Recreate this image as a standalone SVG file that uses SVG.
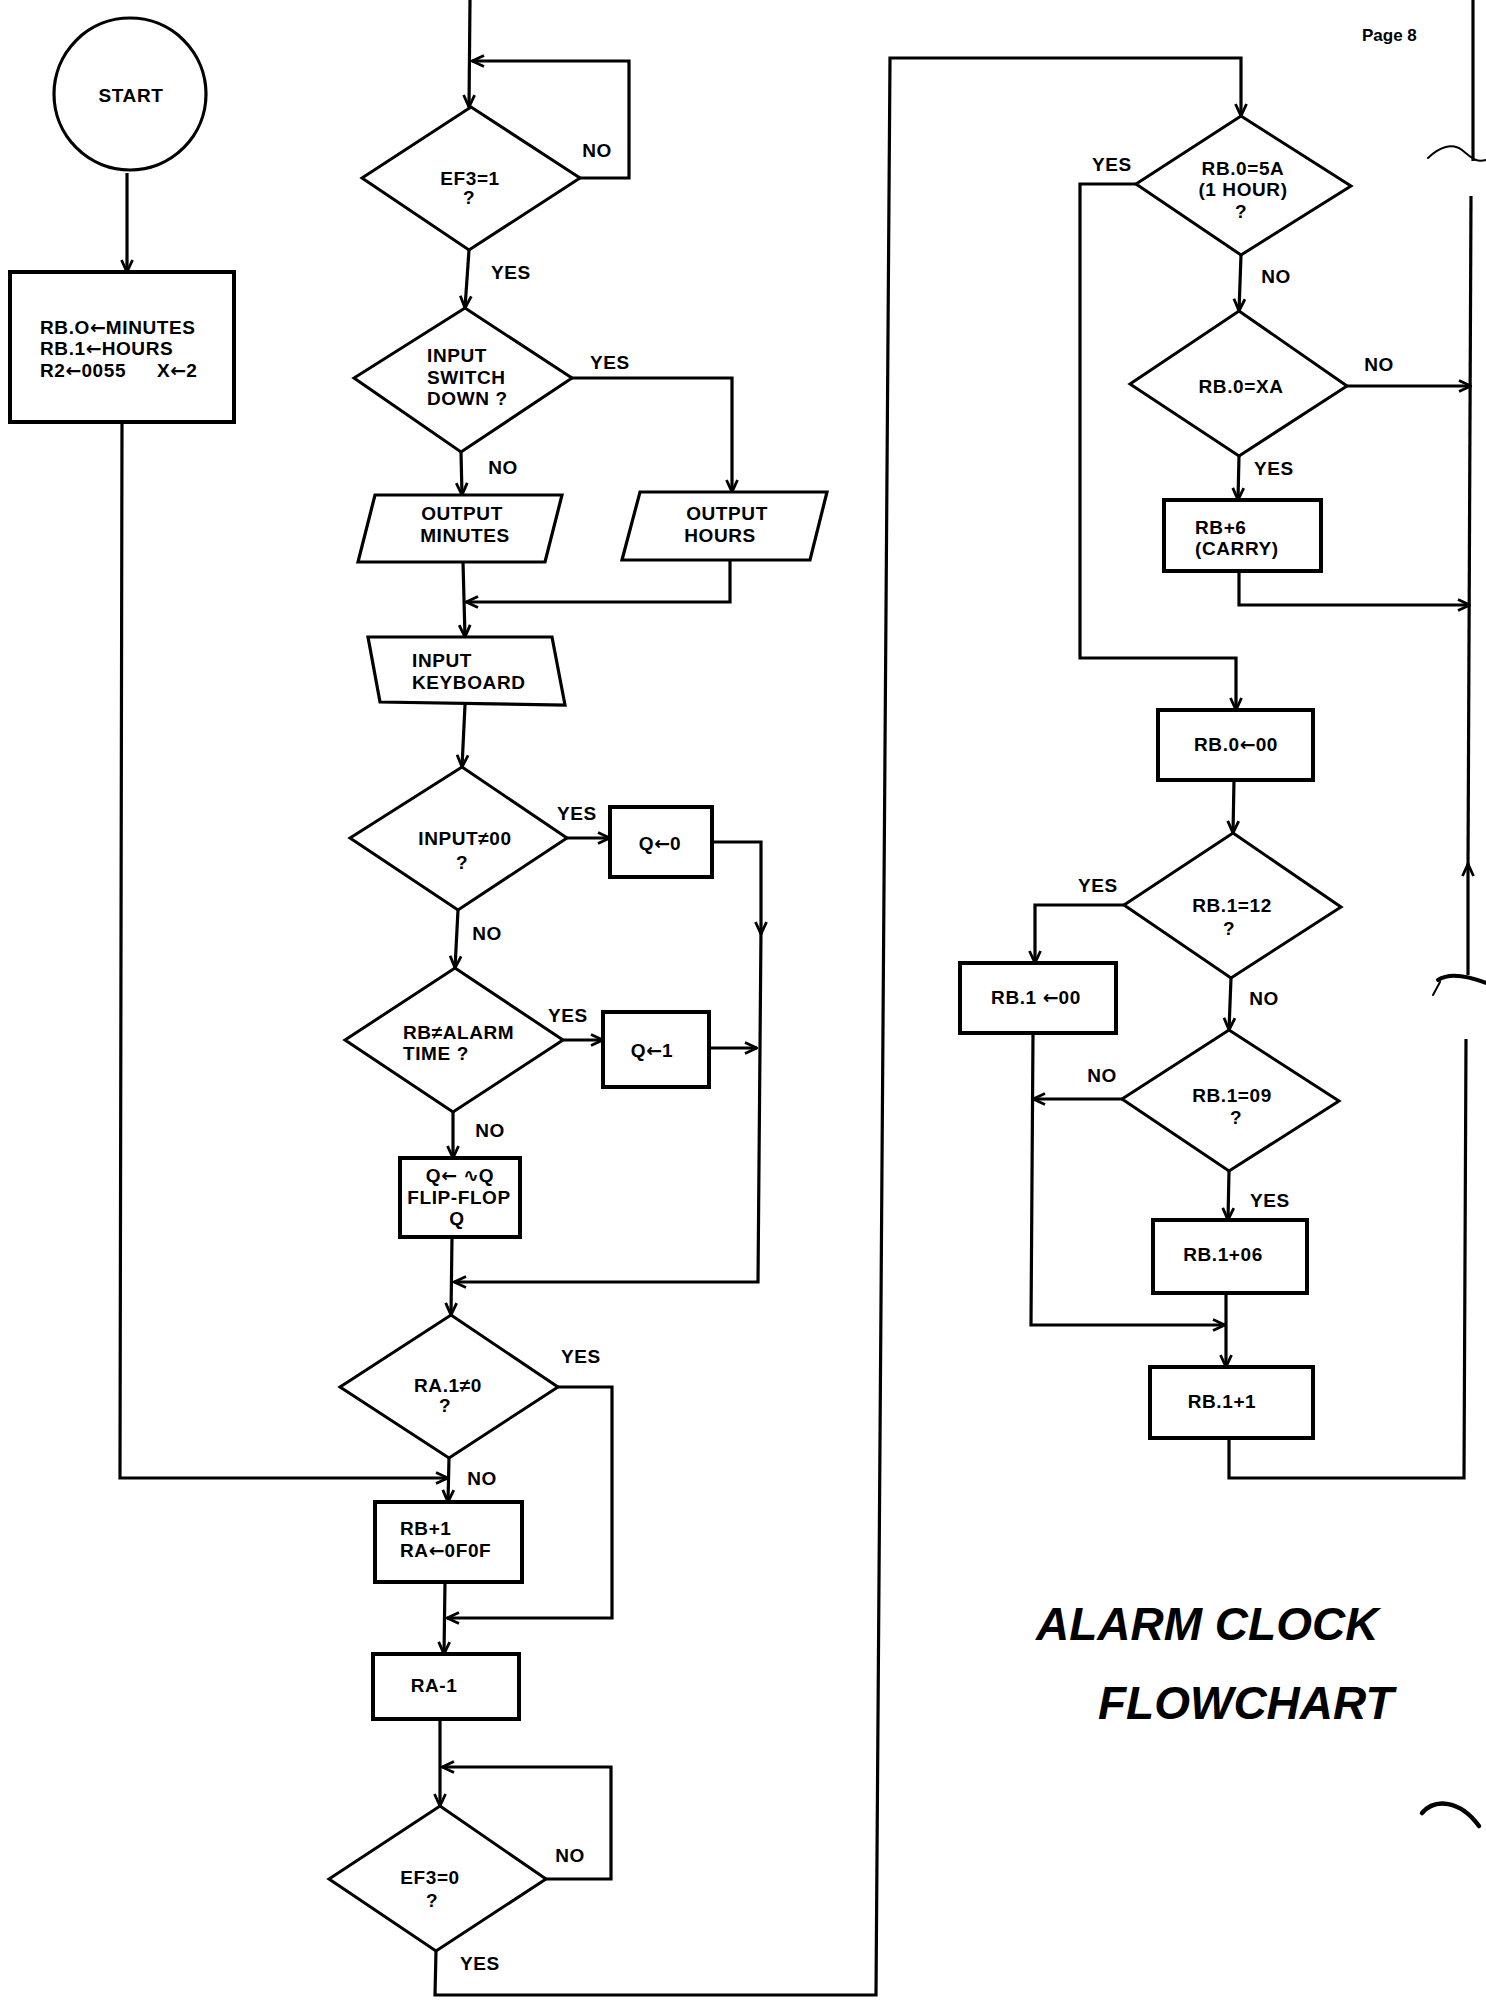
<svg xmlns="http://www.w3.org/2000/svg" width="1486" height="2007" viewBox="0 0 1486 2007">
<defs>
<marker id="ah" viewBox="0 0 14 14" refX="13" refY="7" markerWidth="14" markerHeight="14" markerUnits="userSpaceOnUse" orient="auto">
<path d="M1,1.5 L13,7 L1,12.5" fill="none" stroke="#000" stroke-width="2.8"/>
</marker>
<style>
.sh{fill:#fff;stroke:#000;stroke-width:3.2;stroke-linejoin:miter}
.bx{fill:#fff;stroke:#000;stroke-width:4}
.dm{fill:#fff;stroke:#000;stroke-width:3}
.c{fill:none;stroke:#000;stroke-width:3.2}
.a{marker-end:url(#ah)}
.t{font-family:"Liberation Sans","DejaVu Sans",Arial,sans-serif;font-weight:bold;font-size:19px;letter-spacing:0.6px;fill:#000;text-anchor:middle}
.l{text-anchor:start}
.ar{font-family:"DejaVu Sans",sans-serif;font-weight:bold;letter-spacing:0}
.ttl{font-family:"Liberation Sans",Arial,sans-serif;font-weight:bold;font-style:italic;font-size:46px;fill:#000}
.pg{font-family:"Liberation Sans",Arial,sans-serif;font-weight:bold;font-size:17px;fill:#000}
.art{fill:none;stroke:#000;stroke-linecap:round}
</style>
</defs>
<rect width="1486" height="2007" fill="#fff"/>

<g id="connectors">
<path class="c a" d="M127,173 L127,272"/>
<path class="c a" d="M122,422 L120,1478 L448,1478"/>
<path class="c a" d="M470,0 L469,107"/>
<path class="c a" d="M580,178 L629,178 L629,61 L472,61"/>
<path class="c a" d="M469,250 L465,308"/>
<path class="c a" d="M572,378 L732,378 L732,492"/>
<path class="c a" d="M461,452 L462,495"/>
<path class="c a" d="M463,562 L465,637"/>
<path class="c a" d="M730,560 L730,602 L466,602"/>
<path class="c a" d="M465,705 L462,767"/>
<path class="c a" d="M567,838 L610,838"/>
<path class="c a" d="M712,842 L761,842 L761,934"/>
<path class="c a" d="M761,930 L758,1282 L454,1282"/>
<path class="c a" d="M458,910 L455,968"/>
<path class="c a" d="M563,1040 L603,1040"/>
<path class="c a" d="M709,1048 L757,1048"/>
<path class="c a" d="M453,1112 L453,1158"/>
<path class="c a" d="M452,1237 L451,1315"/>
<path class="c a" d="M558,1387 L612,1387 L612,1618 L447,1618"/>
<path class="c a" d="M449,1458 L448,1502"/>
<path class="c a" d="M445,1582 L444,1654"/>
<path class="c a" d="M440,1719 L440,1806"/>
<path class="c a" d="M546,1879 L611,1879 L611,1767 L442,1767"/>
<path class="c a" d="M436,1951 L435,1995 L876,1995 L890,58 L1241,58 L1241,116"/>
<path class="c a" d="M1136,184 L1080,184 L1080,658 L1236,658 L1236,710"/>
<path class="c a" d="M1241,255 L1239,311"/>
<path class="c a" d="M1347,386 L1471,386"/>
<path class="c a" d="M1239,456 L1238,500"/>
<path class="c a" d="M1239,571 L1239,605 L1470,605"/>
<path class="c a" d="M1234,780 L1233,833"/>
<path class="c a" d="M1124,905 L1035,905 L1035,963"/>
<path class="c a" d="M1231,978 L1229,1030"/>
<path class="c a" d="M1122,1099 L1033,1099"/>
<path class="c a" d="M1033,1033 L1031,1325 L1225,1325"/>
<path class="c a" d="M1229,1171 L1228,1220"/>
<path class="c a" d="M1226,1293 L1226,1367"/>
<path class="c" d="M1229,1438 L1229,1478 L1464,1478 L1466,1039"/>
<path class="c a" d="M1468,975 L1468,864"/>
<path class="c" d="M1468,868 L1471,196"/>
<path class="c" d="M1473,161 L1473,0"/>
</g>

<g id="artifacts">
<path class="art" stroke-width="2" d="M1428,158 C1438,148 1452,142 1462,150 S1476,163 1486,160"/>
<path class="art" stroke-width="4" d="M1438,980 C1450,972 1468,976 1486,983"/>
<path class="art" stroke-width="2" d="M1440,982 L1433,995"/>
<path class="art" stroke-width="4.5" d="M1422,1813 C1435,1798 1460,1800 1479,1826"/>
</g>

<g id="start">
<circle class="sh" cx="130" cy="94" r="76"/>
<text class="t" x="131" y="102">START</text>
</g>

<g id="init">
<rect class="bx" x="10" y="272" width="224" height="150"/>
<text class="t l" x="40" y="334">RB.O<tspan class="ar">←</tspan>MINUTES</text>
<text class="t l" x="40" y="355">RB.1<tspan class="ar">←</tspan>HOURS</text>
<text class="t l" x="40" y="377">R2<tspan class="ar">←</tspan>0055<tspan x="157">X</tspan><tspan class="ar">←</tspan>2</text>
</g>

<g id="ef3-1">
<polygon class="dm" points="471,107 580,178 469,250 362,178"/>
<text class="t" x="470" y="185">EF3=1</text>
<text class="t" x="469" y="204">?</text>
<text class="t" x="597" y="157">NO</text>
<text class="t" x="511" y="279">YES</text>
</g>

<g id="switch">
<polygon class="dm" points="465,308 572,378 461,452 354,378"/>
<text class="t l" x="427" y="362">INPUT</text>
<text class="t l" x="427" y="384">SWITCH</text>
<text class="t l" x="427" y="405">DOWN ?</text>
<text class="t" x="610" y="369">YES</text>
<text class="t" x="503" y="474">NO</text>
</g>

<g id="out-min">
<polygon class="sh" points="375,495 562,495 545,562 358,562"/>
<text class="t" x="462" y="520">OUTPUT</text>
<text class="t" x="465" y="542">MINUTES</text>
</g>

<g id="out-hrs">
<polygon class="sh" points="640,492 827,492 810,560 622,560"/>
<text class="t" x="727" y="520">OUTPUT</text>
<text class="t" x="720" y="542">HOURS</text>
</g>

<g id="keyboard">
<polygon class="sh" points="368,637 552,637 565,705 380,702"/>
<text class="t l" x="412" y="667">INPUT</text>
<text class="t l" x="412" y="689">KEYBOARD</text>
</g>

<g id="input-ne">
<polygon class="dm" points="462,767 567,838 458,910 350,838"/>
<text class="t" x="465" y="845">INPUT≠00</text>
<text class="t" x="462" y="869">?</text>
<text class="t" x="577" y="820">YES</text>
<text class="t" x="487" y="940">NO</text>
</g>

<g id="q0">
<rect class="bx" x="610" y="807" width="102" height="70"/>
<text class="t" x="660" y="850">Q<tspan class="ar">←</tspan>0</text>
</g>

<g id="alarm">
<polygon class="dm" points="455,968 563,1040 453,1112 345,1040"/>
<text class="t l" x="403" y="1039">RB≠ALARM</text>
<text class="t l" x="403" y="1060">TIME ?</text>
<text class="t" x="568" y="1022">YES</text>
<text class="t" x="490" y="1137">NO</text>
</g>

<g id="q1">
<rect class="bx" x="603" y="1012" width="106" height="75"/>
<text class="t" x="652" y="1057">Q<tspan class="ar">←</tspan>1</text>
</g>

<g id="flipflop">
<rect class="bx" x="400" y="1158" width="120" height="79"/>
<text class="t" x="460" y="1182">Q<tspan class="ar">←</tspan> <tspan class="ar">∿</tspan>Q</text>
<text class="t" x="459" y="1204">FLIP-FLOP</text>
<text class="t" x="457" y="1225">Q</text>
</g>

<g id="ra1">
<polygon class="dm" points="451,1315 558,1387 449,1458 340,1387"/>
<text class="t" x="448" y="1392">RA.1≠0</text>
<text class="t" x="445" y="1412">?</text>
<text class="t" x="581" y="1363">YES</text>
<text class="t" x="482" y="1485">NO</text>
</g>

<g id="rbinc">
<rect class="bx" x="375" y="1502" width="147" height="80"/>
<text class="t l" x="400" y="1535">RB+1</text>
<text class="t l" x="400" y="1557">RA<tspan class="ar">←</tspan>0F0F</text>
</g>

<g id="radec">
<rect class="bx" x="373" y="1654" width="146" height="65"/>
<text class="t" x="434" y="1692">RA-1</text>
</g>

<g id="ef3-0">
<polygon class="dm" points="440,1806 546,1879 436,1951 329,1879"/>
<text class="t" x="430" y="1884">EF3=0</text>
<text class="t" x="432" y="1907">?</text>
<text class="t" x="570" y="1862">NO</text>
<text class="t" x="480" y="1970">YES</text>
</g>

<g id="hour">
<polygon class="dm" points="1241,116 1351,186 1241,255 1136,184"/>
<text class="t" x="1243" y="175">RB.0=5A</text>
<text class="t" x="1243" y="196">(1 HOUR)</text>
<text class="t" x="1241" y="218">?</text>
<text class="t" x="1112" y="171">YES</text>
<text class="t" x="1276" y="283">NO</text>
</g>

<g id="xa">
<polygon class="dm" points="1239,311 1347,386 1239,456 1130,384"/>
<text class="t" x="1241" y="393">RB.0=XA</text>
<text class="t" x="1379" y="371">NO</text>
<text class="t" x="1274" y="475">YES</text>
</g>

<g id="carry">
<rect class="bx" x="1164" y="500" width="157" height="71"/>
<text class="t l" x="1195" y="534">RB+6</text>
<text class="t l" x="1195" y="555">(CARRY)</text>
</g>

<g id="rb0clr">
<rect class="bx" x="1158" y="710" width="155" height="70"/>
<text class="t" x="1236" y="751">RB.0<tspan class="ar">←</tspan>00</text>
</g>

<g id="rb12">
<polygon class="dm" points="1233,833 1341,907 1231,978 1124,905"/>
<text class="t" x="1232" y="912">RB.1=12</text>
<text class="t" x="1229" y="935">?</text>
<text class="t" x="1098" y="892">YES</text>
<text class="t" x="1264" y="1005">NO</text>
</g>

<g id="rb1clr">
<rect class="bx" x="960" y="963" width="156" height="70"/>
<text class="t" x="1036" y="1004">RB.1 <tspan class="ar">←</tspan>00</text>
</g>

<g id="rb09">
<polygon class="dm" points="1229,1030 1339,1101 1229,1171 1122,1099"/>
<text class="t" x="1232" y="1102">RB.1=09</text>
<text class="t" x="1236" y="1124">?</text>
<text class="t" x="1102" y="1082">NO</text>
<text class="t" x="1270" y="1207">YES</text>
</g>

<g id="rb106">
<rect class="bx" x="1153" y="1220" width="154" height="73"/>
<text class="t" x="1223" y="1261">RB.1+06</text>
</g>

<g id="rb11">
<rect class="bx" x="1150" y="1367" width="163" height="71"/>
<text class="t" x="1222" y="1408">RB.1+1</text>
</g>

<g id="title">
<text class="pg" x="1362" y="41">Page 8</text>
<text class="ttl" x="1036" y="1640">ALARM CLOCK</text>
<text class="ttl" x="1098" y="1719">FLOWCHART</text>
</g>
</svg>
